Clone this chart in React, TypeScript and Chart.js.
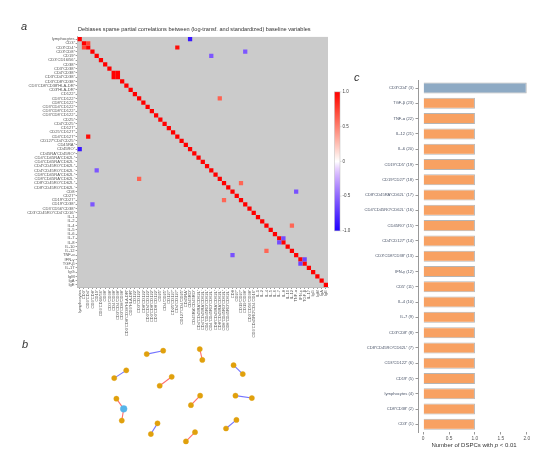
import React, { useEffect, useRef } from 'react';
import { Chart, registerables } from 'chart.js';
Chart.register(...registerables);

// ---------- Panel a: debiased sparse partial correlations ----------
const VARIABLES = [
  'lymphocytes', 'CD3⁺', 'CD3⁺CD4⁺', 'CD3⁺CD8⁺', 'CD19⁺', 'CD3⁻CD16/56⁺', 'CD38⁺', 'CD3⁺CD38⁺',
  'CD4⁺CD38⁺', 'CD3⁺CD4⁺CD38⁺', 'CD3⁺CD8⁺CD38⁺', 'CD3⁻CD8⁺CD38⁺HLA-DR⁺', 'CD3⁺HLA-DR⁺', 'CD122⁺',
  'CD3⁺CD122⁺', 'CD8⁺CD122⁺', 'CD3⁺CD4⁺CD122⁺', 'CD3⁺CD8⁺CD122⁺', 'CD3⁺CD8⁻CD122⁺', 'CD25⁺',
  'CD4⁺CD25⁺', 'CD127⁺', 'CD25⁺CD127⁺', 'CD4⁺CD127⁺', 'CD127⁺CD4⁺CD25⁺', 'CD45RA⁺', 'CD45RO⁺',
  'CD45RA⁺CD45RO⁺', 'CD4⁺CD45RA⁺CD62L⁺', 'CD4⁺CD45RA⁺CD62L⁻', 'CD4⁺CD45RO⁺CD62L⁺', 'CD4⁺CD45RO⁺CD62L⁻',
  'CD8⁺CD45RA⁺CD62L⁺', 'CD8⁺CD45RA⁺CD62L⁻', 'CD8⁺CD45RO⁺CD62L⁺', 'CD8⁺CD45RO⁺CD62L⁻', 'CD8',
  'CD27⁺', 'CD19⁺CD27⁺', 'CD19⁺CD38⁺', 'CD3⁻CD56⁺CD38⁺', 'CD3⁻CD45RO⁺CD4⁻CD16⁺',
  'IL-1', 'IL-2', 'IL-4', 'IL-5', 'IL-6', 'IL-7', 'IL-8', 'IL-10', 'IL-12', 'TNF-α', 'IFN-γ',
  'TGF-β', 'IL-17', 'IgG', 'IgM', 'IgA', 'IgE',
];
// off-diagonal non-zero partial correlations (1-based variable indices, symmetric)
const PAIR_A = [1, 2, 3, 4, 5, 9, 15, 35, 37, 45, 48, 53];
const PAIR_B = [27, 3, 24, 40, 32, 10, 34, 39, 52, 51, 49, 54];
const PAIR_R = [-0.88, 0.72, 0.95, -0.58, -0.58, 1.0, 0.62, 0.6, -0.6, 0.6, -0.62, -0.65];
const DIAGONAL_R = 1.0;
const COLORBAR_TICKS = [1.0, 0.5, 0, -0.5, -1.0];

// ---------- Panel b: network of significant partial correlations ----------
const NODE_X = [49.3, 66.7, 105.3, 108, 141, 150.7, 15, 27.7, 63, 75.7, 17.3, 25, 23, 96, 105.7, 143, 160.3, 53.7, 60.7, 90.7, 100.3, 133, 144];
const NODE_Y = [109.3, 113, 114.7, 103, 97.3, 87.7, 83.3, 91.7, 75, 84.7, 61, 50, 37.3, 54, 64.3, 64.3, 61.7, 22.7, 34.3, 14.7, 24.7, 28.7, 38];
const HUB_NODES = [11];
const COMPONENTS = [[0, 1], [2, 3], [4, 5], [6, 7], [8, 9], [10, 11, 12], [13, 14], [15, 16], [17, 18], [19, 20], [21, 22]];
const COMPONENT_SIGN = [-1, 1, -1, -1, 1, 1, 1, -1, -1, 1, -1];

// ---------- Panel c: number of DSPCs ----------
const BAR_LABELS = [
  'CD3⁺CD4⁺ (3)', 'TGF-β (23)', 'TNF-α (22)', 'IL-12 (21)', 'IL-6 (20)', 'CD19⁺CD5⁺ (19)',
  'CD19⁺CD27⁺ (18)', 'CD8⁺CD45RA⁺CD62L⁻ (17)', 'CD4⁺CD45RO⁺CD62L⁻ (16)', 'CD45RO⁺ (15)',
  'CD4⁺CD127⁺ (14)', 'CD3⁺CD8⁺CD38⁺ (13)', 'IFN-γ (12)', 'CD5⁺ (11)', 'IL-4 (10)', 'IL-7 (9)',
  'CD3⁺CD8⁺ (8)', 'CD8⁺CD45RO⁺CD62L⁺ (7)', 'CD3⁺CD122⁺ (6)', 'CD19⁺ (5)', 'lymphocytes (4)',
  'CD8⁺CD38⁺ (2)', 'CD3⁺ (1)',
];
const BAR_VALUES = [2, 1, 1, 1, 1, 1, 1, 1, 1, 1, 1, 1, 1, 1, 1, 1, 1, 1, 1, 1, 1, 1, 1];
const BAR_X_TICKS = [0, 0.5, 1.0, 1.5, 2.0];

const FONT = "'Liberation Sans', Arial, sans-serif";

function corrColor(v: number): string {
  const t = Math.min(1, Math.abs(v));
  if (v >= 0) {
    const g = Math.round(255 * (1 - t));
    const b = Math.round(255 * Math.pow(1 - t, 1.2));
    return `rgb(255,${g},${b})`;
  }
  const r = Math.round(255 - 225 * t);
  const g = Math.round(255 * (1 - Math.pow(t, 0.75)));
  return `rgb(${r},${g},255)`;
}

function Heatmap() {
  const ref = useRef<HTMLCanvasElement>(null);
  useEffect(() => {
    const cells: any[] = VARIABLES.map((v) => ({ x: v, y: v, v: DIAGONAL_R }));
    PAIR_A.forEach((a, i) => {
      const b = PAIR_B[i];
      cells.push({ x: VARIABLES[b - 1], y: VARIABLES[a - 1], v: PAIR_R[i] });
      cells.push({ x: VARIABLES[a - 1], y: VARIABLES[b - 1], v: PAIR_R[i] });
    });
    const bgPlugin = {
      id: 'bg',
      beforeDatasetsDraw(chart: any) {
        const { ctx, chartArea: a } = chart;
        ctx.save();
        ctx.fillStyle = '#cbcbcb';
        ctx.fillRect(a.left, a.top, a.right - a.left, a.bottom - a.top);
        ctx.restore();
      },
      afterDraw(chart: any) {
        const { ctx, chartArea: a } = chart;
        const x0 = a.right + 6.5;
        const w = 5.5;
        const top = a.top + 55;
        const h = 139;
        ctx.save();
        const grad = ctx.createLinearGradient(0, top, 0, top + h);
        for (let k = 0; k <= 20; k++) {
          const val = 1 - k / 10;
          grad.addColorStop(k / 20, corrColor(val));
        }
        ctx.fillStyle = grad;
        ctx.fillRect(x0, top, w, h);
        ctx.strokeStyle = '#bbbbbb';
        ctx.lineWidth = 0.5;
        ctx.strokeRect(x0, top, w, h);
        ctx.fillStyle = '#444';
        ctx.font = `4.5px ${FONT}`;
        ctx.textBaseline = 'middle';
        COLORBAR_TICKS.forEach((t) => {
          const y = top + ((1 - t) / 2) * h;
          ctx.beginPath();
          ctx.moveTo(x0 + w, y);
          ctx.lineTo(x0 + w + 1.5, y);
          ctx.stroke();
          ctx.fillText(t === 0 ? '0' : t.toFixed(1), x0 + w + 2.5, y);
        });
        ctx.restore();
      },
    };
    const chart = new Chart(ref.current!, {
      type: 'scatter',
      data: {
        datasets: [
          {
            data: cells,
            pointStyle: 'rect',
            pointRadius: 3.0,
            pointBorderWidth: 0,
            backgroundColor: (c: any) => corrColor(c.raw ? c.raw.v : 0),
          } as any,
        ],
      },
      options: {
        responsive: false,
        animation: false,
        events: [],
        layout: { padding: { top: 36.9, right: 32, left: 0, bottom: 0 } },
        plugins: { legend: { display: false }, tooltip: { enabled: false }, title: { display: false } },
        scales: {
          x: {
            type: 'category',
            labels: VARIABLES,
            offset: true,
            grid: { display: true, drawOnChartArea: false, tickLength: 2, color: '#999', offset: false },
            border: { display: true, color: '#bdbdbd' },
            ticks: { autoSkip: false, maxRotation: 90, minRotation: 90, font: { size: 4.1, family: FONT }, color: '#555', padding: 1 },
            afterFit: (s: any) => { s.height = 55; },
          },
          y: {
            type: 'category',
            labels: VARIABLES,
            offset: true,
            grid: { display: true, drawOnChartArea: false, tickLength: 2, color: '#999', offset: false },
            border: { display: true, color: '#bdbdbd' },
            ticks: { autoSkip: false, font: { size: 4.1, family: FONT }, color: '#555', padding: 1 },
            afterFit: (s: any) => { s.width = 77.6; },
          },
        } as any,
      },
      plugins: [bgPlugin],
    });
    return () => chart.destroy();
  }, []);
  return <canvas ref={ref} width={360} height={342} style={{ position: 'absolute', left: 0, top: 0, width: 360, height: 342 }} />;
}

function Network() {
  const ref = useRef<HTMLCanvasElement>(null);
  useEffect(() => {
    const datasets = COMPONENTS.map((comp, ci) => ({
      data: comp.map((n) => ({ x: NODE_X[n], y: NODE_Y[n] })),
      showLine: true,
      borderColor: COMPONENT_SIGN[ci] < 0 ? 'rgba(90,90,255,0.85)' : 'rgba(255,95,95,0.9)',
      borderWidth: 1.1,
      pointRadius: comp.map((n) => (HUB_NODES.includes(n) ? 3.4 : 2.6)),
      pointBackgroundColor: comp.map((n) => (HUB_NODES.includes(n) ? '#56b4e9' : '#e0a00c')),
      pointBorderColor: comp.map((n) => (HUB_NODES.includes(n) ? 'rgba(86,180,233,0.45)' : 'rgba(224,160,12,0.4)')),
      pointBorderWidth: 1,
    }));
    const chart = new Chart(ref.current!, {
      type: 'scatter',
      data: { datasets: datasets as any },
      options: {
        responsive: false,
        animation: false,
        events: [],
        layout: { padding: 0 },
        plugins: { legend: { display: false }, tooltip: { enabled: false } },
        scales: {
          x: { type: 'linear', display: false, min: 0, max: 190 },
          y: { type: 'linear', display: false, min: 0, max: 130 },
        },
      },
    });
    return () => chart.destroy();
  }, []);
  return <canvas ref={ref} width={190} height={130} style={{ position: 'absolute', left: 95, top: 330, width: 190, height: 130 }} />;
}

function Bars() {
  const ref = useRef<HTMLCanvasElement>(null);
  useEffect(() => {
    const chart = new Chart(ref.current!, {
      type: 'bar',
      data: {
        labels: BAR_LABELS,
        datasets: [
          {
            data: BAR_VALUES,
            backgroundColor: (c: any) => (c.raw >= 2 ? '#8eaac4' : '#f8a162'),
            borderColor: '#b5b5b5',
            borderWidth: 1,
            barPercentage: 0.72,
            categoryPercentage: 1,
          } as any,
        ],
      },
      options: {
        indexAxis: 'y',
        responsive: false,
        animation: false,
        events: [],
        layout: { padding: { top: 10.4, right: 24.1, left: 0, bottom: 0 } },
        plugins: { legend: { display: false }, tooltip: { enabled: false } },
        scales: {
          x: {
            type: 'linear',
            min: -0.1,
            max: 2.1,
            afterBuildTicks: (s: any) => { s.ticks = BAR_X_TICKS.map((v) => ({ value: v })); },
            ticks: { font: { size: 4.8, family: FONT }, color: '#555', padding: 1, callback: (v: any) => (v === 0 ? '0' : Number(v).toFixed(1)) },
            grid: { display: true, drawOnChartArea: false, tickLength: 2.5, color: '#999' },
            border: { display: false },
            afterFit: (s: any) => { s.height = 29; },
          },
          y: {
            type: 'category',
            grid: { display: true, drawOnChartArea: false, tickLength: 2.5, color: '#999', offset: false },
            border: { display: true, color: '#999' },
            ticks: { autoSkip: false, font: { size: 4.1, family: FONT }, color: '#4a5468', padding: 2 },
            afterFit: (s: any) => { s.width = 58; },
          },
        } as any,
      },
    });
    return () => chart.destroy();
  }, []);
  return <canvas ref={ref} width={196} height={391} style={{ position: 'absolute', left: 360, top: 70, width: 196, height: 391 }} />;
}

export default function App() {
  const letter: React.CSSProperties = { position: 'absolute', fontFamily: FONT, fontStyle: 'italic', fontSize: 11, lineHeight: '12px', color: '#333' };
  return (
    <div style={{ position: 'absolute', left: 0, top: 0, width: 556, height: 461, background: '#fff', overflow: 'hidden', fontFamily: FONT }}>
      <Heatmap />
      <Network />
      <Bars />
      <div style={{ ...letter, left: 21, top: 20 }}>a</div>
      <div style={{ ...letter, left: 22, top: 338 }}>b</div>
      <div style={{ ...letter, left: 354, top: 71 }}>c</div>
      <div style={{ position: 'absolute', left: 78, top: 25.5, fontSize: 5.6, lineHeight: '7px', color: '#333', whiteSpace: 'nowrap' }}>
        Debiases sparse partial correlations between (log-transf. and standardized) baseline variables
      </div>
      <div style={{ position: 'absolute', left: 414, width: 120, top: 441, fontSize: 6, lineHeight: '8px', color: '#333', textAlign: 'center', whiteSpace: 'nowrap' }}>
        Number of DSPCs with <i>p</i> &lt; 0.01
      </div>
    </div>
  );
}
